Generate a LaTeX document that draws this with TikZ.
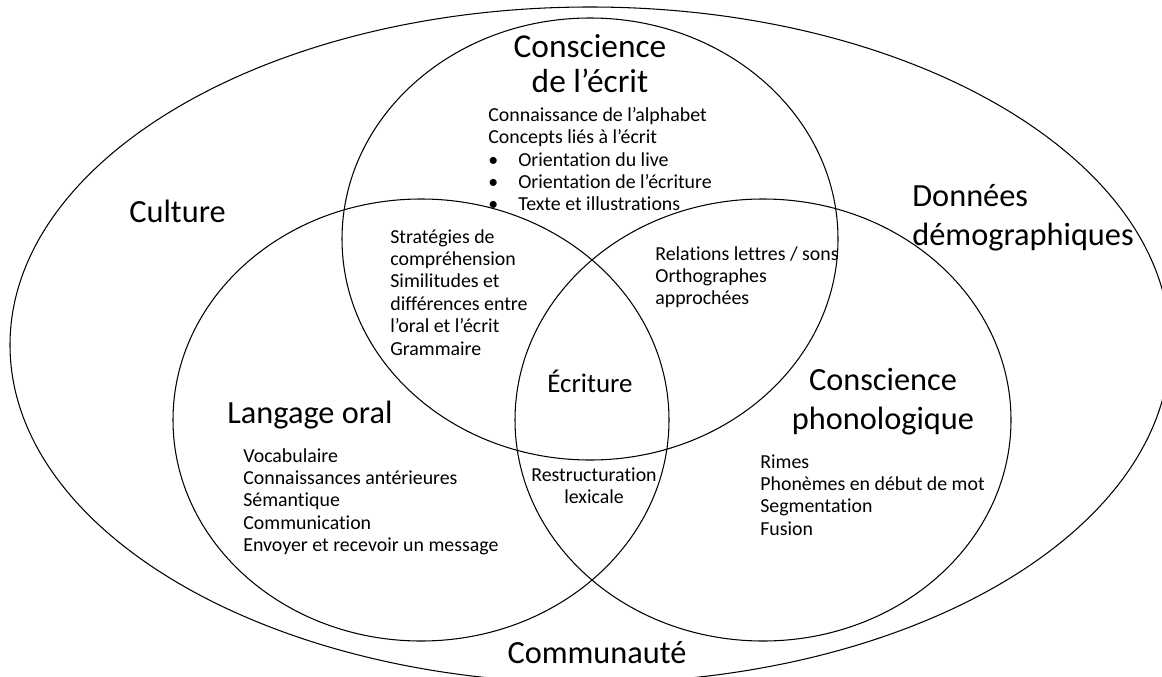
\documentclass[tikz,border=0pt]{standalone}
\usepackage{fontspec}
\setmainfont{Carlito}[Ligatures={TeX,CommonOff}]
\begin{document}
\begin{tikzpicture}[x=0.02cm,y=-0.02cm,
  ring/.style={line width=0.6pt},
  bigtext/.style={inner sep=0pt, align=center, font=\fontsize{18.4}{21}\selectfont},
  midtext/.style={inner sep=0pt, font=\fontsize{15.3}{18}\selectfont},
  listtext/.style={inner sep=0pt, align=left, font=\fontsize{11.3}{12.75}\selectfont}]
\useasboundingbox (0,0) rectangle (1162,676);
\clip (0,0) rectangle (1162,676);
% outer context and the three circles
\draw[ring] (590,345) ellipse [x radius=580, y radius=338];
\draw[ring] (590,239) ellipse [x radius=248, y radius=221];
\draw[ring] (421,420) ellipse [x radius=248, y radius=221];
\draw[ring] (763,420) ellipse [x radius=248, y radius=221];
% context labels
\node[bigtext, anchor=north west] (culture) at (129,200) {Culture};
\node[bigtext, align=left, anchor=north west, font=\fontsize{18.4}{22.5}\selectfont] (demo) at (912,184) {Données\\démographiques};
\node[bigtext, anchor=base] (communaute) at (597,663) {Communauté};
% print awareness
\node[bigtext, anchor=north, font=\fontsize{19}{19.8}\selectfont] (ecrit) at (590,34) {Conscience\\de l’écrit};
\node[listtext, anchor=north west] (ecritlist) at (488,107) {Connaissance de l’alphabet\\Concepts liés à l’écrit\\
  \makebox[0.6cm][l]{\textbullet}Orientation du live\\
  \makebox[0.6cm][l]{\textbullet}Orientation de l’écriture\\
  \makebox[0.6cm][l]{\textbullet}Texte et illustrations};
% oral language
\node[bigtext, anchor=base west] (oral) at (227,423) {Langage oral};
\node[listtext, anchor=north west] (orallist) at (243,448) {Vocabulaire\\Connaissances antérieures\\Sémantique\\Communication\\Envoyer et recevoir un message};
% phonological awareness
\node[bigtext, anchor=north, font=\fontsize{18.4}{22}\selectfont] (phono) at (883,368) {Conscience\\phonologique};
\node[listtext, anchor=north west] (phonolist) at (760,454) {Rimes\\Phonèmes en début de mot\\Segmentation\\Fusion};
% overlaps
\node[listtext, anchor=north west] (ecritoral) at (390,229) {Stratégies de\\compréhension\\Similitudes et\\différences entre\\l’oral et l’écrit\\Grammaire};
\node[listtext, anchor=north west] (ecritphono) at (655,246) {Relations lettres / sons\\Orthographes\\approchées};
\node[listtext, align=center, anchor=north] (oralphono) at (594,467) {Restructuration\\lexicale};
\node[midtext, anchor=base] (ecriture) at (590,392) {Écriture};
\end{tikzpicture}
\end{document}
